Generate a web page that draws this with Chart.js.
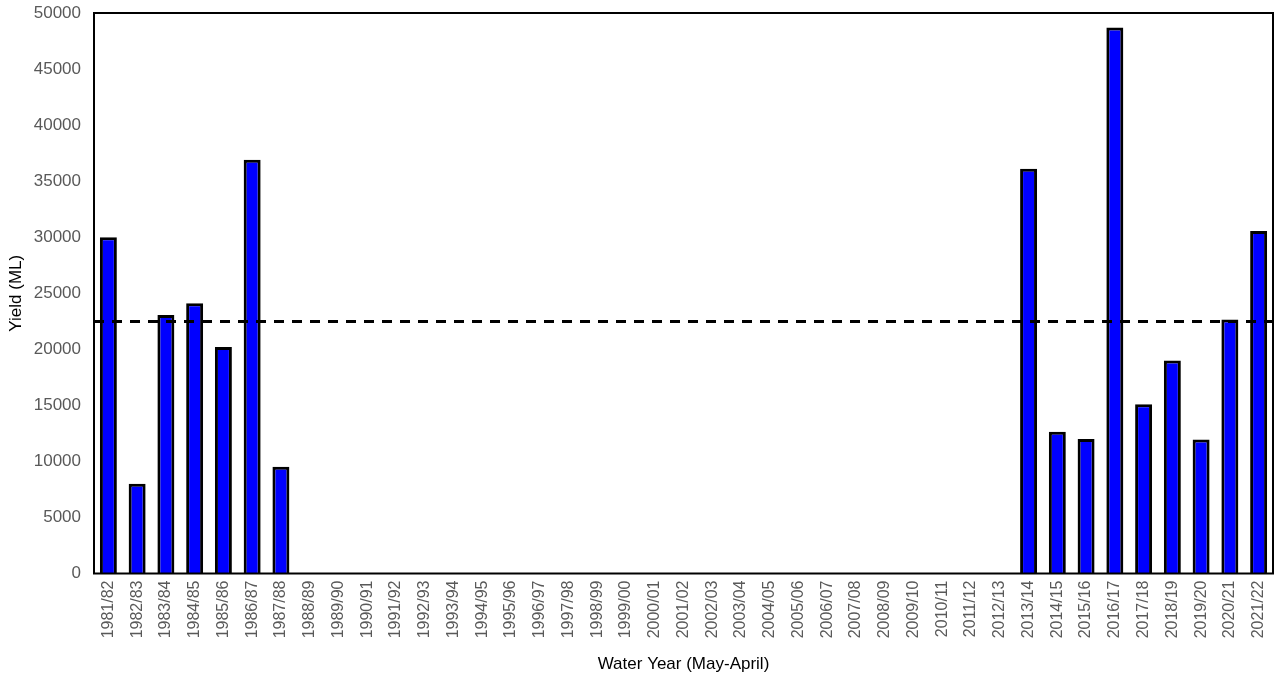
<!DOCTYPE html>
<html>
<head>
<meta charset="utf-8">
<script src="https://cdn.jsdelivr.net/npm/chart.js@4.4.1/dist/chart.umd.min.js"></script>
<style>
  html, body { margin: 0; padding: 0; background: #ffffff; }
  #wrap { width: 1277px; height: 678px; }
</style>
</head>
<body>
<div id="wrap"><canvas id="c" width="1277" height="678"></canvas></div>
<script>
const categories = [
  "1981/82","1982/83","1983/84","1984/85","1985/86","1986/87","1987/88","1988/89","1989/90","1990/91",
  "1991/92","1992/93","1993/94","1994/95","1995/96","1996/97","1997/98","1998/99","1999/00","2000/01",
  "2001/02","2002/03","2003/04","2004/05","2005/06","2006/07","2007/08","2008/09","2009/10","2010/11",
  "2011/12","2012/13","2013/14","2014/15","2015/16","2016/17","2017/18","2018/19","2019/20","2020/21",
  "2021/22"
];
const yieldValues = [
  30000, 8000, 23050, 24100, 20200, 36900, 9520, null, null, null,
  null, null, null, null, null, null, null, null, null, null,
  null, null, null, null, null, null, null, null, null, null,
  null, null, 36100, 12650, 12000, 48700, 15100, 19000, 11950, 22650,
  30550
];
const meanYield = [22480];
const yTicks = [0, 5000, 10000, 15000, 20000, 25000, 30000, 35000, 40000, 45000, 50000];

const frameAndMean = {
  id: 'frameAndMean',
  afterDatasetsDraw(chart) {
    const { ctx, chartArea, scales } = chart;
    const y = scales.y.getPixelForValue(meanYield[0]);
    ctx.save();
    ctx.strokeStyle = '#000000';
    ctx.lineWidth = 3;
    ctx.setLineDash([10, 8]);
    ctx.beginPath();
    ctx.moveTo(chartArea.left, y);
    ctx.lineTo(chartArea.right, y);
    ctx.stroke();
    ctx.setLineDash([]);
    ctx.lineWidth = 2;
    ctx.strokeRect(chartArea.left, chartArea.top, chartArea.right - chartArea.left, chartArea.bottom - chartArea.top);
    ctx.restore();
  }
};

new Chart(document.getElementById('c'), {
  type: 'bar',
  data: {
    labels: categories,
    datasets: [{
      data: yieldValues,
      backgroundColor: '#0000ff',
      borderColor: '#000000',
      borderWidth: 3,
      barPercentage: 0.59,
      categoryPercentage: 1.0
    }]
  },
  options: {
    responsive: false,
    animation: false,
    layout: { padding: { top: 13, right: 4, left: 0, bottom: 0 } },
    plugins: { legend: { display: false }, tooltip: { enabled: false } },
    scales: {
      x: {
        grid: { display: false, drawTicks: false },
        border: { display: false },
        ticks: {
          color: '#595959',
          font: { family: '"Liberation Sans", Arial, sans-serif', size: 16 },
          maxRotation: 90, minRotation: 90, autoSkip: false, padding: 7
        },
        title: {
          display: true, text: 'Water Year (May-April)', color: '#000000',
          font: { family: '"Liberation Sans", Arial, sans-serif', size: 17 },
          padding: { top: 0, bottom: 3 }
        },
        afterFit(scale) { scale.height = 104.5; scale.paddingLeft = 0; scale.paddingRight = 0; }
      },
      y: {
        min: 0, max: 50000,
        grid: { display: false, drawTicks: false },
        border: { display: false },
        afterBuildTicks(scale) { scale.ticks = yTicks.map(v => ({ value: v })); },
        ticks: {
          color: '#595959',
          font: { family: '"Liberation Sans", Arial, sans-serif', size: 17 },
          padding: 13,
          callback: (v) => String(v)
        },
        title: {
          display: true, text: 'Yield (ML)', color: '#000000',
          font: { family: '"Liberation Sans", Arial, sans-serif', size: 17 },
          padding: { top: 6, bottom: 0 }
        },
        afterFit(scale) { scale.width = 94; scale.paddingTop = 0; scale.paddingBottom = 0; }
      }
    }
  },
  plugins: [frameAndMean]
});
</script>
</body>
</html>
